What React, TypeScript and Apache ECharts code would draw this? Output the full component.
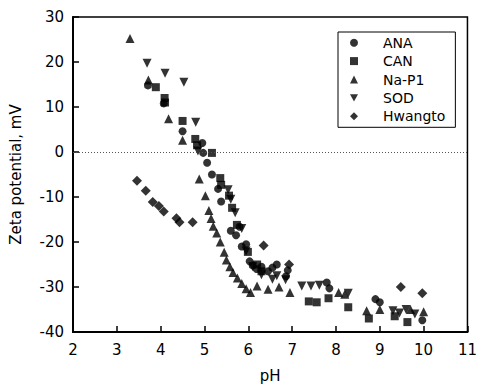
import React, { useEffect, useRef } from "react";
import * as echarts from "echarts";

const seriesNames = ["ANA", "CAN", "Na-P1", "SOD", "Hwangto"];

const ana: number[][] = [
  [3.71, 14.8], [4.07, 10.8], [4.5, 4.6], [4.95, 2.0], [4.97, -0.2], [5.06, -2.4],
  [5.17, -5.0], [5.31, -8.2], [5.38, -11.0], [5.6, -17.5], [5.72, -18.5], [5.8, -16.6],
  [5.85, -21], [5.95, -20.5], [6.03, -24.3], [6.1, -25.2], [6.19, -26], [6.3, -25.5],
  [6.45, -26.5], [6.55, -25.7], [6.65, -25], [6.86, -27.6], [6.9, -26.3], [7.79, -29],
  [7.85, -30.3], [8.9, -32.7], [9.0, -33.4], [9.97, -37.4],
];

const can: number[][] = [
  [3.89, 14.4], [4.09, 12], [4.1, 11], [4.5, 6.9], [4.79, 2.9], [4.83, 1.5], [5.17, -0.2],
  [5.36, -5.8], [5.38, -7.3], [5.56, -9.7], [5.63, -12.4], [5.74, -16.2], [5.99, -22.2],
  [6.2, -25], [6.3, -26.5], [7.38, -33.2], [7.56, -33.4], [7.83, -32.5], [8.28, -34.5],
  [8.75, -37], [9.34, -36.5], [9.63, -37.8],
];

const naP1: number[][] = [
  [3.3, 25.2], [3.72, 16], [4.18, 7.4], [4.5, 2.6], [4.88, -6], [5.02, -9.7], [5.1, -13],
  [5.15, -14.8], [5.2, -16.5], [5.28, -18], [5.36, -20], [5.45, -22.3], [5.5, -24],
  [5.58, -25.5], [5.65, -26.8], [5.75, -28], [5.85, -29.2], [5.95, -30.4], [6.05, -31.2],
  [6.2, -29.8], [6.45, -30.5], [6.7, -30], [6.95, -31.2], [8.06, -31.2], [8.2, -31.6],
  [8.7, -35.3], [9.0, -35], [9.7, -35], [10.0, -35.5],
];

const sod: number[][] = [
  [3.69, 19.7], [4.1, 17.5], [4.53, 15.5], [4.8, 6.6], [4.85, 0.2], [5.54, -8.4],
  [5.6, -10.5], [5.7, -13.5], [5.85, -17], [5.95, -22], [6.1, -25.5], [6.3, -27.3],
  [6.55, -28.3], [6.65, -27.5], [6.85, -28.4], [7.22, -29.8], [7.43, -29.8], [7.62, -29.6],
  [8.28, -31.4], [9.3, -35.3], [9.45, -35.8], [9.6, -35], [9.8, -36],
];

const hwangto: number[][] = [
  [3.46, -6.4], [3.66, -8.6], [3.82, -11.1], [3.96, -12], [4.07, -13.2], [4.36, -14.7],
  [4.43, -15.6], [4.73, -15.6], [6.35, -20.8], [6.93, -25], [9.48, -30], [9.97, -31.4],
];

const FONT = "DejaVu Sans";

export default function App() {
  const ref = useRef<HTMLDivElement>(null);
  useEffect(() => {
    if (!ref.current) return;
    const chart = echarts.init(ref.current, null, { renderer: "svg" });
    const inverted = "path://M0,0L2,0L1,1.8Z";
    const mk = (name: string, data: number[][], symbol: string, size: number) => ({
      name,
      type: "scatter",
      data,
      symbol,
      symbolSize: size,
      itemStyle: { color: "#000" },
      emphasis: { disabled: true },
    });
    const series: any[] = [
      mk(seriesNames[0], ana, "circle", 8),
      mk(seriesNames[1], can, "rect", 8),
      mk(seriesNames[2], naP1, "triangle", 9),
      mk(seriesNames[3], sod, inverted, 9),
      mk(seriesNames[4], hwangto, "diamond", 10),
    ];
    series[0].markLine = {
      silent: true,
      symbol: "none",
      label: { show: false },
      lineStyle: { type: [1, 2], color: "#555", width: 1 },
      data: [{ yAxis: 0 }],
    };
    chart.setOption({
      animation: false,
      backgroundColor: "#fff",
      grid: {
        left: 71,
        right: 9,
        top: 17,
        bottom: 54,
        show: true,
        borderColor: "#000",
        borderWidth: 1.5,
        backgroundColor: "transparent",
      },
      legend: {
        orient: "vertical",
        left: 338,
        top: 32,
        data: seriesNames,
        itemWidth: 8,
        itemHeight: 8,
        itemGap: 4.4,
        padding: [3.7, 10, 4, 12],
        borderColor: "#000",
        borderWidth: 1,
        backgroundColor: "#fff",
        selectedMode: false,
        textStyle: {
          fontFamily: FONT,
          fontSize: 14,
          color: "#000",
          lineHeight: 14,
          padding: [0, 0, 0, 20],
        },
      },
      xAxis: {
        type: "value",
        min: 2,
        max: 11,
        interval: 1,
        name: "pH",
        nameLocation: "middle",
        nameGap: 36,
        nameTextStyle: { fontFamily: FONT, fontSize: 15, color: "#000" },
        axisLine: { show: true, onZero: false, lineStyle: { color: "#000", width: 2 } },
        axisTick: { show: true, inside: true, length: 6, lineStyle: { color: "#000", width: 1.5 } },
        axisLabel: { fontFamily: FONT, fontSize: 15, color: "#000", margin: 10 },
        splitLine: { show: false },
      },
      yAxis: {
        type: "value",
        min: -40,
        max: 30,
        interval: 10,
        name: "Zeta potential, mV",
        nameLocation: "middle",
        nameGap: 50,
        nameTextStyle: { fontFamily: FONT, fontSize: 15, color: "#000" },
        axisLine: { show: true, onZero: false, lineStyle: { color: "#000", width: 2 } },
        axisTick: { show: true, inside: true, length: 6, lineStyle: { color: "#000", width: 1.5 } },
        axisLabel: { fontFamily: FONT, fontSize: 15, color: "#000", margin: 9 },
        splitLine: { show: false },
      },
      series,
    });
    return () => chart.dispose();
  }, []);
  return (
    <div
      ref={ref}
      style={{ position: "fixed", left: 0, top: 0, width: 480, height: 388, background: "#fff" }}
    />
  );
}
